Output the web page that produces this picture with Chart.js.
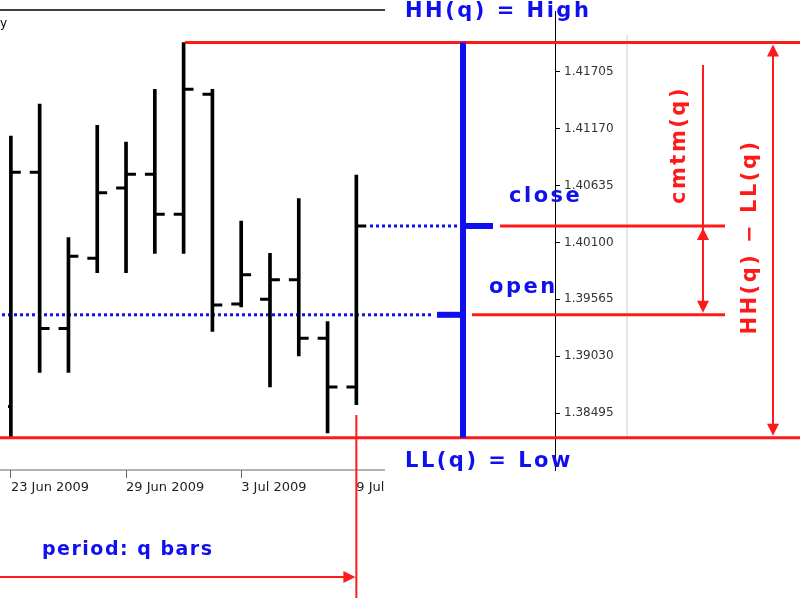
<!DOCTYPE html>
<html><head><meta charset="utf-8">
<script src="https://cdn.jsdelivr.net/npm/chart.js@4"></script>
<style>html,body{margin:0;padding:0;background:#fff}#w{width:800px;height:600px}</style>
</head><body><div id="w"><canvas id="c"></canvas></div>
<script>
const dateLabels = {0:'23 Jun 2009', 4:'29 Jun 2009', 8:'3 Jul 2009', 12:'9 Jul'};
const barIndex = [0,1,2,3,4,5,6,7,8,9,10,11,12];
const highs  = [1.41099,1.41402,1.40145,1.41200,1.41044,1.41540,1.41980,1.41540,1.40301,1.39998,1.40512,1.39356,1.40733];
const lows   = [1.38264,1.38878,1.38878,1.39815,1.39815,1.39998,1.39998,1.39264,1.39493,1.38741,1.39034,1.38310,1.38576];
const opens  = [1.38557,1.40760,1.39291,1.39952,1.40613,1.40741,1.40365,1.41494,1.39521,1.39567,1.39750,1.39200,1.38741];
const closes = [1.40760,1.39291,1.39971,1.40567,1.40741,1.40365,1.41540,1.39512,1.39796,1.39750,1.39200,1.38741,1.40255];
const priceTicks = [1.38495,1.39030,1.39565,1.40100,1.40635,1.41170,1.41705];
const periodOpen = 1.39420;
const periodClose = closes[closes.length-1];
const HH = Math.max(...highs), LL = Math.min(...lows);

const RED='#ff1a1a', BLUE='#1010ee';
function arrowHead(ctx,x,y,dir){
  ctx.beginPath();
  if(dir==='up'){ctx.moveTo(x,y);ctx.lineTo(x-6,y+12);ctx.lineTo(x+6,y+12);}
  if(dir==='down'){ctx.moveTo(x,y);ctx.lineTo(x-6,y-12);ctx.lineTo(x+6,y-12);}
  if(dir==='right'){ctx.moveTo(x,y);ctx.lineTo(x-12,y-6);ctx.lineTo(x-12,y+6);}
  ctx.closePath();ctx.fill();
}
const annot = {
  id:'annot',
  beforeDatasetsDraw(chart){
    const ctx=chart.ctx, y=chart.scales.y, ca=chart.chartArea;
    ctx.save();
    ctx.strokeStyle='#000';ctx.lineWidth=1.5;
    ctx.beginPath();ctx.moveTo(0,10);ctx.lineTo(385,10);ctx.stroke();
    ctx.strokeStyle='#ccc';ctx.lineWidth=1;
    ctx.beginPath();ctx.moveTo(627,35);ctx.lineTo(627,437);ctx.stroke();
    ctx.strokeStyle='#666';
    ctx.beginPath();ctx.moveTo(0,ca.bottom);ctx.lineTo(385,ca.bottom);ctx.stroke();
    ctx.fillStyle='#000';ctx.font='12px "DejaVu Sans"';ctx.textBaseline='top';
    ctx.fillText('y',0,18);
    const yo=y.getPixelForValue(periodOpen), yc=y.getPixelForValue(periodClose);
    ctx.fillStyle=BLUE;
    for(let x=2;x<430;x+=6) ctx.fillRect(x,yo-1.5,3,3);
    for(let x=370;x<455;x+=6) ctx.fillRect(x,yc-1.5,3,3);
    ctx.restore();
  },
  afterDatasetsDraw(chart){
    const ctx=chart.ctx, y=chart.scales.y, x=chart.scales.x;
    const yh=y.getPixelForValue(HH), yl=y.getPixelForValue(LL);
    const yo=y.getPixelForValue(periodOpen), yc=y.getPixelForValue(periodClose);
    const xq=x.getPixelForValue(12);
    ctx.save();
    ctx.strokeStyle=RED;ctx.fillStyle=RED;ctx.lineWidth=3;
    ctx.beginPath();ctx.moveTo(185,yh);ctx.lineTo(800,yh);ctx.stroke();
    ctx.beginPath();ctx.moveTo(0,yl);ctx.lineTo(800,yl);ctx.stroke();
    ctx.beginPath();ctx.moveTo(500,yc);ctx.lineTo(725,yc);ctx.stroke();
    ctx.beginPath();ctx.moveTo(472,yo);ctx.lineTo(725,yo);ctx.stroke();
    ctx.lineWidth=2;
    ctx.beginPath();ctx.moveTo(703,65);ctx.lineTo(703,yo-10);ctx.stroke();
    arrowHead(ctx,703,yc+2,'up');arrowHead(ctx,703,yo-2,'down');
    ctx.beginPath();ctx.moveTo(773,yh+8);ctx.lineTo(773,yl-8);ctx.stroke();
    arrowHead(ctx,773,yh+2,'up');arrowHead(ctx,773,yl-2,'down');
    ctx.beginPath();ctx.moveTo(xq,415);ctx.lineTo(xq,598);ctx.stroke();
    ctx.beginPath();ctx.moveTo(0,577);ctx.lineTo(xq-8,577);ctx.stroke();
    arrowHead(ctx,xq-1,577,'right');
    ctx.fillStyle=BLUE;
    ctx.fillRect(460,yh,6,yl-yh);
    ctx.fillRect(437,yo-3,26,6);
    ctx.fillRect(463,yc-3,30,6);
    ctx.font='bold 21px "DejaVu Sans"';ctx.letterSpacing='2.5px';ctx.textBaseline='middle';
    ctx.fillText('HH(q) = High',405,12);
    ctx.fillText('LL(q) = Low',405,462);
    ctx.fillText('close',509,197);
    ctx.fillText('open',489,288);
    ctx.font='bold 19px "DejaVu Sans"';ctx.letterSpacing='1.5px';
    ctx.fillText('period: q bars',42,550);
    ctx.fillStyle=RED;ctx.font='bold 21px "DejaVu Sans"';ctx.letterSpacing='2.5px';ctx.textAlign='center';
    ctx.save();ctx.translate(680,145);ctx.rotate(-Math.PI/2);ctx.fillText('cmtm(q)',0,0);ctx.restore();
    ctx.save();ctx.translate(751,237);ctx.rotate(-Math.PI/2);ctx.fillText('HH(q) \u2212 LL(q)',0,0);ctx.restore();
    ctx.restore();
  }
};

new Chart(document.getElementById('c'),{
  data:{datasets:[
    {type:'bar',data:barIndex.map(i=>({x:i,y:[lows[i],highs[i]]})),backgroundColor:'#000',barThickness:3,order:2},
    {type:'scatter',data:barIndex.map(i=>({x:i-0.17,y:opens[i]})),pointStyle:'line',radius:5,borderWidth:3,borderColor:'#000'},
    {type:'scatter',data:barIndex.map(i=>({x:i+0.17,y:closes[i]})),pointStyle:'line',radius:5,borderWidth:3,borderColor:'#000'}
  ]},
  options:{
    responsive:true,maintainAspectRatio:false,animation:false,
    layout:{padding:0},
    plugins:{legend:{display:false},tooltip:{enabled:false}},
    scales:{
      x:{type:'linear',min:-0.1,max:18.9,offset:false,
        afterFit(s){s.height=130;},
        afterBuildTicks(s){s.ticks=Object.keys(dateLabels).map(k=>({value:+k}));},
        border:{display:false},
        grid:{drawOnChartArea:false,tickLength:8,color:'#666',offset:false},
        ticks:{align:'start',autoSkip:false,maxRotation:0,padding:2,color:'#222',font:{family:'"DejaVu Sans"',size:13},
          callback:v=>dateLabels[v]}},
      y:{position:'right',min:1.37961,max:1.42274,
        afterFit(s){s.width=245;},
        afterBuildTicks(s){s.ticks=priceTicks.map(v=>({value:v}));},
        border:{display:true,color:'#000'},
        grid:{drawOnChartArea:false,tickLength:5,color:'#000'},
        ticks:{padding:4,color:'#333',font:{family:'"DejaVu Sans"',size:12},callback:v=>v.toFixed(5)}}
    }
  },
  plugins:[annot]
});
</script></body></html>
